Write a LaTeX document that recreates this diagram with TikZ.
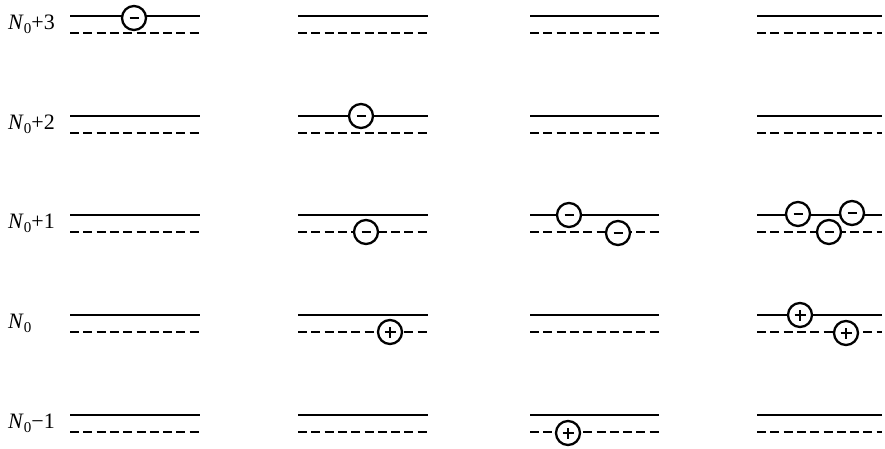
\documentclass[tikz,border=0pt]{standalone}
\usepackage{fontspec}
\setmainfont{Liberation Serif}
\newcommand{\Nlab}[1]{\textit{N}\raisebox{-4.5pt}{\fontsize{15}{15}\selectfont 0}#1}
\begin{document}
\begin{tikzpicture}[x=1pt,y=-1pt,
  lvl/.style={line width=2.2pt},
  dlvl/.style={line width=2.2pt, dash pattern=on 9pt off 4.3pt},
  chg/.style={circle, draw, line width=2.3pt, fill=white, minimum size=24pt, inner sep=0pt},
  negchg/.style={chg, path picture={\draw[line width=2.2pt] ([xshift=-4.5pt]path picture bounding box.center) -- ([xshift=4.5pt]path picture bounding box.center);}},
  poschg/.style={chg, path picture={\draw[line width=2.2pt] ([xshift=-5.5pt]path picture bounding box.center) -- ([xshift=5.5pt]path picture bounding box.center) ([yshift=-5.5pt]path picture bounding box.center) -- ([yshift=5.5pt]path picture bounding box.center);}},
  lab/.style={anchor=base west, inner sep=0pt, font=\fontsize{22}{22}\selectfont}
]
\useasboundingbox (0,0) rectangle (885,448);
% energy levels
\foreach \xa/\xb in {70/200,298/428,530/659,757/882}
  \foreach \y in {16,116,215,315,415} {
    \draw[lvl] (\xa,\y) -- (\xb,\y);
    \draw[dlvl] (\xa,{\y+17}) -- (\xb,{\y+17});
  }
% labels
\node[lab] (l3) at (8,29) {\Nlab{+3}};
\node[lab] (l2) at (8,129) {\Nlab{+2}};
\node[lab] (l1) at (8,228) {\Nlab{+1}};
\node[lab] (l0) at (8,328) {\Nlab{}};
\node[lab] (lm) at (8,428) {\Nlab{−1}};
% column 1
\node[negchg] (a1) at (134,18) {};
% column 2
\node[negchg] (b1) at (361,116) {};
\node[negchg] (b2) at (366,232) {};
\node[poschg] (b3) at (390,332) {};
% column 3
\node[negchg] (c1) at (569,215) {};
\node[negchg] (c2) at (618,233) {};
\node[poschg] (c3) at (568,433) {};
% column 4
\node[negchg] (d1) at (798,214) {};
\node[negchg] (d2) at (829,232) {};
\node[negchg] (d3) at (852,213) {};
\node[poschg] (d4) at (800,315) {};
\node[poschg] (d5) at (846,333) {};
\end{tikzpicture}
\end{document}
